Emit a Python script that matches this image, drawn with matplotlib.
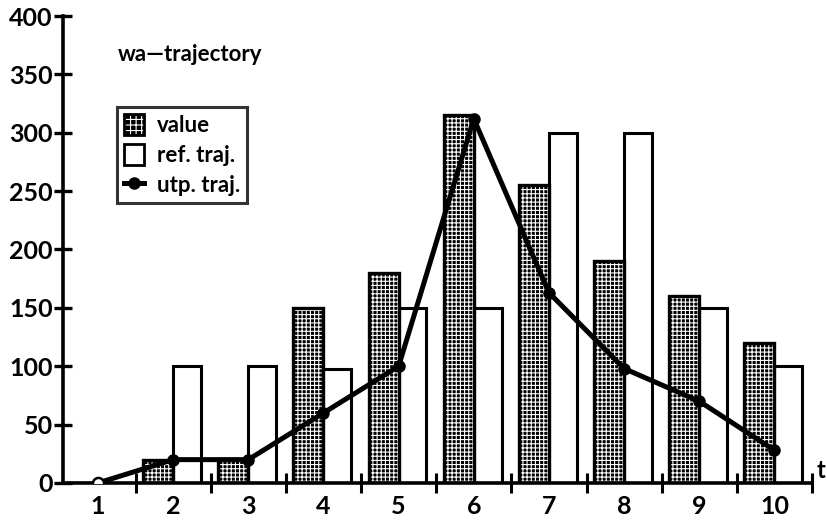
#!/usr/bin/env python3
"""wa-trajectory: value / reference trajectory bars with utp trajectory line."""

import matplotlib

matplotlib.use("Agg")
import matplotlib.pyplot as plt
from matplotlib.lines import Line2D
from matplotlib.patches import Patch

t_steps = [1, 2, 3, 4, 5, 6, 7, 8, 9, 10]
value = [0, 20, 20, 150, 180, 315, 255, 190, 160, 120]
ref_traj = [0, 100, 100, 98, 150, 150, 300, 300, 150, 100]
utp_traj = [0, 20, 20, 60, 100, 312, 163, 98, 70, 28]
y_ticks = [0, 50, 100, 150, 200, 250, 300, 350, 400]

plt.rcParams["font.family"] = ["Lato", "DejaVu Sans"]
plt.rcParams["font.weight"] = "bold"
plt.rcParams["hatch.linewidth"] = 0.8

fig = plt.figure(figsize=(8.28, 5.2), dpi=100)
ax = fig.add_axes([0.0761, 0.0712, 0.9046, 0.898])

# value bars: black fill with white grid, then a black outline on top
ax.bar(t_steps, value, width=-0.4, align="edge", facecolor="black",
       edgecolor="white", hatch="++++", linewidth=0, zorder=2)
ax.bar(t_steps, value, width=-0.4, align="edge", facecolor="none",
       edgecolor="black", linewidth=2.4, zorder=3)
ax.bar(t_steps, ref_traj, width=0.37, align="edge", facecolor="white",
       edgecolor="black", linewidth=2.2, zorder=2)

ax.plot(t_steps, utp_traj, color="black", linewidth=3.6, marker="o",
        markersize=8, zorder=5)
ax.plot(t_steps[0], utp_traj[0], marker="o", markersize=8, color="black",
        markerfacecolor="white", markeredgewidth=1.8, zorder=6)

ax.set_xlim(0.535, 10.48)
ax.set_ylim(0, 400)
for side in ("top", "right"):
    ax.spines[side].set_visible(False)
for side in ("left", "bottom"):
    ax.spines[side].set_linewidth(2.6)

ax.set_yticks(y_ticks)
ax.tick_params(axis="y", direction="inout", length=13, width=2.4,
               labelsize=18, pad=1)
ax.set_xticks(t_steps)
ax.tick_params(axis="x", which="major", length=0, labelsize=18, pad=9)
ax.set_xticks([t + 0.5 for t in t_steps], minor=True)
ax.tick_params(axis="x", which="minor", direction="inout", length=15,
               width=2.2)

fig.text(0.142, 0.895, "wa\u2014trajectory", fontsize=16, va="center")
fig.text(0.986, 0.095, "t", fontsize=17, va="center")

value_handle = (
    Patch(facecolor="black", edgecolor="white", hatch="+++", linewidth=0),
    Patch(facecolor="none", edgecolor="black", linewidth=2),
)
handles = [
    value_handle,
    Patch(facecolor="white", edgecolor="black", linewidth=2),
    Line2D([], [], color="black", linewidth=3.6, marker="o", markersize=8),
]
leg = ax.legend(handles, ["value", "ref. traj.", "utp. traj."],
                loc="upper left", bbox_to_anchor=(117 / 828, 1 - 107 / 520),
                bbox_transform=fig.transFigure, fontsize=16, frameon=True,
                fancybox=False, handlelength=0.9, handleheight=1.1,
                handletextpad=0.6, borderpad=0.3, labelspacing=0.35,
                borderaxespad=0)
leg.get_frame().set_edgecolor("black")
leg.get_frame().set_linewidth(2.2)

fig.savefig("out.png", dpi=100)
